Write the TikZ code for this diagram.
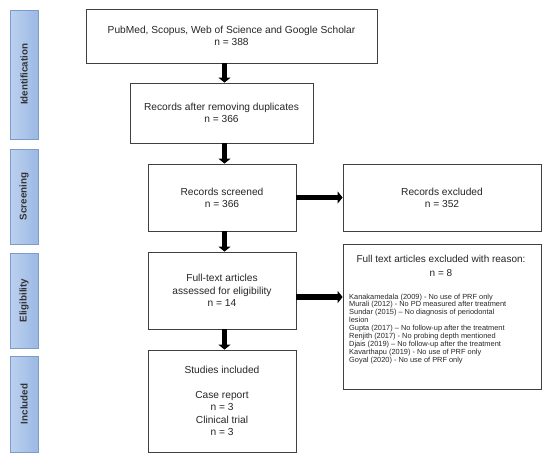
\documentclass[tikz,border=0pt]{standalone}
\usepackage{fontspec}
\setmainfont{Liberation Sans}
\usetikzlibrary{arrows.meta}
\definecolor{bord}{HTML}{404040}
\definecolor{phbord}{HTML}{7A9CC8}
\definecolor{phlight}{HTML}{BDD1EF}
\definecolor{phdark}{HTML}{9BB9E4}
\definecolor{phtext}{HTML}{333333}
\tikzset{
  box/.style={draw=bord, line width=0.8pt, fill=white, align=center, inner sep=0pt,
    font=\fontsize{10.2}{12.3}\selectfont, text=black!85},
  phase/.style={draw=phbord, line width=0.8pt, left color=phlight, right color=phdark,
    minimum width=28pt, inner sep=0pt},
  phtxt/.style={rotate=90, inner sep=0pt, text=phtext,
    font=\fontsize{9.8}{11}\selectfont\bfseries},
  blk/.style={line width=5.5pt, draw=black, -{Triangle[length=5pt,width=12pt]}},
}
\begin{document}
\begin{tikzpicture}[x=1pt,y=-1pt]
\useasboundingbox (0,0) rectangle (550,459);
% phase bars
\node[phase, minimum height=129pt] (pid) at (24,74.5) {};
\node[phase, minimum height=95pt] (psc) at (24,196.5) {};
\node[phase, minimum height=95pt] (pel) at (24,300.5) {};
\node[phase, minimum height=96pt] (pin) at (24,404) {};
\node[phtxt] (pidt) at (pid) {Identification};
\node[phtxt] (psct) at (psc) {Screening};
\node[phtxt] (pelt) at (pel) {Eligibility};
\node[phtxt] (pint) at (pin) {Included};
% boxes
\node[box, minimum width=291pt, minimum height=54pt] (b1) at (231.5,36) {PubMed, Scopus, Web of Science and Google Scholar\\n = 388};
\node[box, minimum width=183pt, minimum height=60pt] (b2) at (221.5,113) {Records after removing duplicates\\n = 366};
\node[box, minimum width=148pt, minimum height=67pt] (b3) at (222,197.5) {Records screened\\n = 366};
\node[box, minimum width=198pt, minimum height=67pt] (ex) at (442,197.5) {Records excluded\\n = 352};
\node[box, minimum width=148pt, minimum height=77pt] (b4) at (222,290.5) {Full-text articles\\assessed for eligibility\\n = 14};
\node[box, minimum width=148pt, minimum height=102pt] (b5) at (222,401) {Studies included\\[12.3pt]Case report\\n = 3\\Clinical trial\\n = 3};
\node[box, minimum width=198pt, minimum height=145pt] (rsn) at (442,316.5) {};
\node[align=center, inner sep=0pt, font=\fontsize{10}{14}\selectfont, text=black!85] (rsnt) at (441,266) {Full text articles excluded with reason:\\n = 8};
\node[anchor=north west, align=left, inner sep=0pt, font=\fontsize{7.4}{7.9}\selectfont, text=black!85] (rsnl) at (349,293.5) {Kanakamedala (2009) - No use of PRF only\\
Murali (2012) - No PD measured after treatment\\
Sundar (2015) -- No diagnosis of periodontal\\
lesion\\
Gupta (2017) -- No follow-up after the treatment\\
Renjith (2017) - No probing depth mentioned\\
Djais (2019) -- No follow-up after the treatment\\
Kavarthapu (2019) - No use of PRF only\\
Goyal (2020) - No use of PRF only};
% arrows
\coordinate (ax) at (224.5,0);
\coordinate (ay) at (0,297);
\draw[blk] (b1.south -| ax) -- (b2.north -| ax);
\draw[blk] (b2.south -| ax) -- (b3.north -| ax);
\draw[blk] (b3.south -| ax) -- (b4.north -| ax);
\draw[blk] (b4.south -| ax) -- (b5.north -| ax);
\draw[blk] (b3.east) -- (ex.west);
\draw[blk] (b4.east |- ay) -- (rsn.west |- ay);
\end{tikzpicture}
\end{document}
